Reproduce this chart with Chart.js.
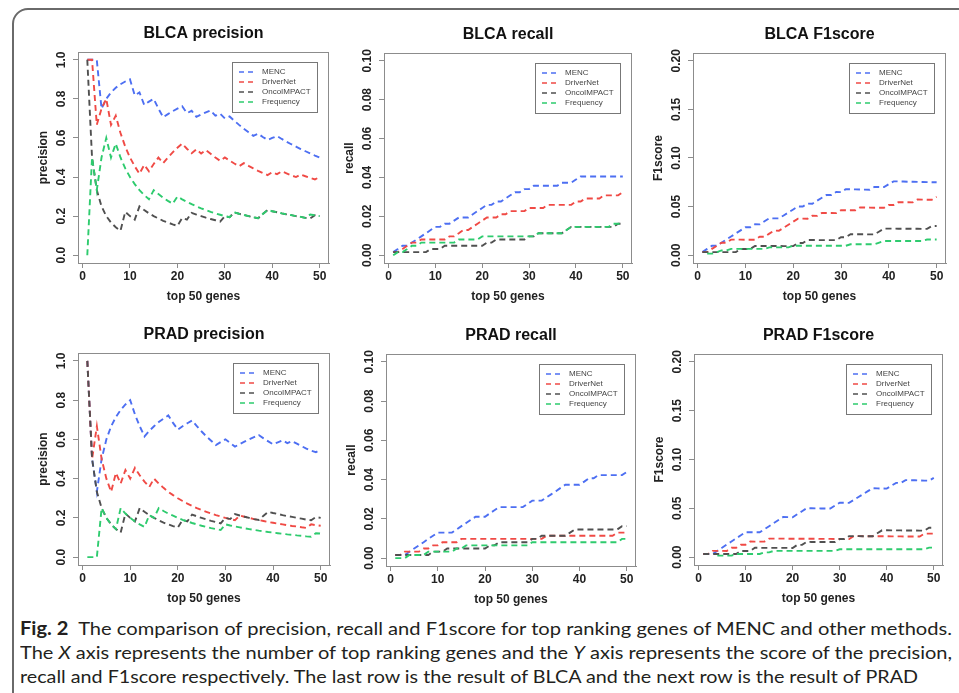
<!DOCTYPE html>
<html lang="en">
<head>
<meta charset="UTF-8">
<title>Fig. 2 precision, recall and F1score</title>
<script src="https://cdn.jsdelivr.net/npm/chart.js@4"></script>
<style>
  body {
    margin: 0;
    width: 959px;
    height: 693px;
    overflow: hidden;
    background: #fff;
    position: relative;
    font-family: "Liberation Sans", Arial, sans-serif;
  }
  .frame {
    position: absolute;
    left: 12px;
    top: 8px;
    width: 1000px;
    height: 800px;
    border: 2px solid #6a6a6a;
    border-radius: 16px;
  }
  canvas { position: absolute; }
  .caption {
    position: absolute;
    left: 20px;
    font-family: Lato, "Open Sans", sans-serif;
    font-size: 18px;
    line-height: 24px;
    color: #231f20;
    white-space: nowrap;
  }
  .caption span.line { display: inline-block; transform-origin: left center; }
  .caption b { font-weight: 700; }
</style>
</head>
<body>
<div class="frame"></div>

<canvas id="c1"></canvas>
<canvas id="c2"></canvas>
<canvas id="c3"></canvas>
<canvas id="c4"></canvas>
<canvas id="c5"></canvas>
<canvas id="c6"></canvas>

<div class="caption" style="top:616px"><span class="line" data-w="932"><b>Fig. 2</b>&nbsp; The comparison of precision, recall and F1score for top ranking genes of MENC and other methods.</span></div>
<div class="caption" style="top:640px"><span class="line" data-w="932">The <i>X</i> axis represents the number of top ranking genes and the <i>Y</i> axis represents the score of the precision,</span></div>
<div class="caption" style="top:664px"><span class="line" data-w="898">recall and F1score respectively. The last row is the result of BLCA and the next row is the result of PRAD</span></div>

<script>
// x axis: number of top ranking genes
const topGenes = [1,2,3,4,5,6,7,8,9,10,11,12,13,14,15,16,17,18,19,20,21,22,23,24,25,
  26,27,28,29,30,31,32,33,34,35,36,37,38,39,40,41,42,43,44,45,46,47,48,49,50];
const methods = ['MENC', 'DriverNet', 'OncoIMPACT', 'Frequency'];

const xTicks = [0, 10, 20, 30, 40, 50];
const precisionTicks = [0, 0.2, 0.4, 0.6, 0.8, 1.0];
const precisionLabels = ['0.0', '0.2', '0.4', '0.6', '0.8', '1.0'];
const recallTicks = [0, 0.02, 0.04, 0.06, 0.08, 0.10];
const recallLabels = ['0.00', '0.02', '0.04', '0.06', '0.08', '0.10'];
const f1Ticks = [0, 0.05, 0.10, 0.15, 0.20];
const f1Labels = ['0.00', '0.05', '0.10', '0.15', '0.20'];

// ---- BLCA ----
const blcaPrecMENC = [1,1,1,.75,.8,.833,.857,.875,.889,.9,
  .818,.833,.769,.786,.8,.75,.706,.722,.737,.75,
  .762,.727,.739,.708,.72,.731,.741,.714,.724,.7,
  .71,.688,.667,.647,.629,.611,.622,.605,.59,.6,
  .61,.595,.581,.568,.556,.543,.532,.521,.51,.5];
const blcaPrecDriverNet = [1,1,.667,.75,.8,.667,.714,.625,.556,.5,
  .455,.417,.462,.429,.467,.5,.471,.5,.526,.55,
  .571,.545,.522,.542,.52,.538,.519,.5,.483,.5,
  .484,.469,.455,.471,.457,.444,.432,.421,.41,.425,
  .415,.429,.419,.409,.4,.413,.404,.396,.388,.4];
const blcaPrecOnco = [1,.5,.333,.25,.2,.167,.143,.125,.222,.2,
  .182,.25,.231,.214,.2,.188,.176,.167,.158,.15,
  .19,.182,.217,.208,.2,.192,.185,.179,.172,.2,
  .194,.219,.212,.206,.2,.194,.189,.211,.231,.225,
  .22,.214,.209,.205,.2,.196,.191,.188,.204,.2];
const blcaPrecFreq = [0,.5,.333,.5,.6,.5,.571,.5,.444,.4,
  .364,.333,.308,.286,.333,.313,.294,.278,.263,.3,
  .286,.273,.261,.25,.24,.231,.222,.214,.207,.2,
  .194,.219,.212,.206,.2,.194,.189,.211,.231,.225,
  .22,.214,.209,.205,.2,.196,.191,.208,.204,.2];

const blcaRecMENC = [.0016,.0032,.0049,.0049,.0065,.0081,.0097,.0113,.013,.0146,
  .0146,.0162,.0162,.0178,.0194,.0194,.0194,.0211,.0227,.0243,
  .0259,.0259,.0276,.0276,.0292,.0308,.0324,.0324,.034,.034,
  .0357,.0357,.0357,.0357,.0357,.0357,.0373,.0373,.0373,.0389,
  .0405,.0405,.0405,.0405,.0405,.0405,.0405,.0405,.0405,.0405];
const blcaRecDriverNet = [.0016,.0016,.0032,.0049,.0065,.0065,.0081,.0081,.0081,.0081,
  .0081,.0081,.0097,.0097,.0113,.013,.013,.0146,.0162,.0178,
  .0194,.0194,.0194,.0211,.0211,.0227,.0227,.0227,.0227,.0243,
  .0243,.0243,.0243,.0259,.0259,.0259,.0259,.0259,.0259,.0276,
  .0276,.0292,.0292,.0292,.0292,.0308,.0308,.0308,.0308,.0324];
const blcaRecOnco = [.0016,.0016,.0016,.0016,.0016,.0016,.0016,.0016,.0032,.0032,
  .0032,.0049,.0049,.0049,.0049,.0049,.0049,.0049,.0049,.0049,
  .0065,.0065,.0081,.0081,.0081,.0081,.0081,.0081,.0081,.0097,
  .0097,.0113,.0113,.0113,.0113,.0113,.0113,.013,.0146,.0146,
  .0146,.0146,.0146,.0146,.0146,.0146,.0146,.0146,.0162,.0162];
const blcaRecFreq = [0,.0016,.0016,.0032,.0049,.0049,.0065,.0065,.0065,.0065,
  .0065,.0065,.0065,.0065,.0081,.0081,.0081,.0081,.0081,.0097,
  .0097,.0097,.0097,.0097,.0097,.0097,.0097,.0097,.0097,.0097,
  .0097,.0113,.0113,.0113,.0113,.0113,.0113,.013,.0146,.0146,
  .0146,.0146,.0146,.0146,.0146,.0146,.0146,.0162,.0162,.0162];

const blcaF1MENC = [.0032,.0065,.0097,.0097,.0129,.0161,.0192,.0224,.0256,.0287,
  .0287,.0318,.0317,.0349,.038,.0379,.0379,.0409,.044,.0471,
  .0502,.0501,.0531,.053,.0561,.0591,.0621,.062,.065,.0649,
  .0679,.0678,.0677,.0676,.0675,.0674,.0703,.0702,.0701,.0731,
  .076,.0759,.0758,.0756,.0755,.0754,.0753,.0752,.0751,.075];
const blcaF1DriverNet = [.0032,.0032,.0065,.0097,.0129,.0128,.016,.016,.016,.0159,
  .0159,.0159,.019,.019,.0222,.0253,.0252,.0283,.0314,.0345,
  .0376,.0376,.0375,.0406,.0405,.0435,.0435,.0434,.0433,.0464,
  .0463,.0462,.0462,.0492,.0491,.049,.0489,.0489,.0488,.0518,
  .0517,.0546,.0545,.0545,.0544,.0573,.0572,.0571,.0571,.06];
const blcaF1Onco = [.0032,.0032,.0032,.0032,.0032,.0032,.0032,.0032,.0064,.0064,
  .0064,.0095,.0095,.0095,.0095,.0095,.0095,.0094,.0094,.0094,
  .0125,.0125,.0156,.0156,.0156,.0155,.0155,.0155,.0155,.0185,
  .0185,.0216,.0215,.0215,.0215,.0214,.0214,.0244,.0274,.0274,
  .0274,.0273,.0273,.0273,.0272,.0272,.0271,.0271,.03,.03];
const blcaF1Freq = [null,.0016,.0016,.0032,.0049,.0049,.0065,.0065,.0065,.0065,
  .0065,.0065,.0065,.0065,.0081,.0081,.0081,.0081,.0081,.0097,
  .0097,.0097,.0097,.0097,.0097,.0097,.0097,.0097,.0097,.0097,
  .0097,.0113,.0113,.0113,.0113,.0113,.0113,.013,.0146,.0146,
  .0146,.0146,.0146,.0146,.0146,.0146,.0146,.0162,.0162,.0162];

// ---- PRAD ----
const pradPrecMENC = [1,.5,.333,.5,.6,.667,.714,.75,.778,.8,
  .727,.667,.615,.643,.667,.688,.706,.722,.684,.65,
  .667,.682,.696,.667,.64,.615,.593,.571,.586,.6,
  .581,.563,.576,.588,.6,.611,.622,.605,.59,.575,
  .585,.595,.581,.591,.578,.565,.553,.542,.535,.547];
const pradPrecDriverNet = [1,.5,.667,.5,.4,.333,.429,.375,.444,.4,
  .455,.417,.385,.357,.4,.375,.353,.333,.316,.3,
  .286,.273,.261,.25,.24,.231,.222,.214,.207,.2,
  .194,.188,.212,.206,.2,.194,.189,.184,.179,.175,
  .171,.167,.163,.159,.156,.152,.149,.167,.163,.16];
const pradPrecOnco = [1,.5,.333,.25,.2,.167,.143,.125,.222,.2,
  .182,.25,.231,.214,.2,.188,.176,.167,.158,.15,
  .19,.182,.217,.208,.2,.192,.185,.179,.172,.2,
  .194,.219,.212,.206,.2,.194,.189,.211,.231,.225,
  .22,.214,.209,.205,.2,.196,.191,.188,.204,.2];
const pradPrecFreq = [0,0,0,.25,.2,.167,.143,.25,.222,.2,
  .182,.167,.154,.214,.2,.25,.235,.222,.211,.2,
  .19,.182,.174,.167,.16,.154,.148,.143,.138,.167,
  .161,.156,.152,.147,.143,.139,.135,.132,.128,.125,
  .122,.119,.116,.114,.111,.109,.106,.104,.122,.12];

const pradRecMENC = [.0016,.0016,.0016,.0033,.0049,.0065,.0081,.0098,.0114,.013,
  .013,.013,.013,.0146,.0163,.0179,.0195,.0211,.0211,.0211,
  .0228,.0244,.026,.026,.026,.026,.026,.026,.0276,.0293,
  .0293,.0293,.0309,.0325,.0341,.0358,.0374,.0374,.0374,.0374,
  .039,.0407,.0407,.0423,.0423,.0423,.0423,.0423,.0423,.0439];
const pradRecDriverNet = [.0016,.0016,.0033,.0033,.0033,.0033,.0049,.0049,.0065,.0065,
  .0081,.0081,.0081,.0081,.0098,.0098,.0098,.0098,.0098,.0098,
  .0098,.0098,.0098,.0098,.0098,.0098,.0098,.0098,.0098,.0098,
  .0098,.0098,.0114,.0114,.0114,.0114,.0114,.0114,.0114,.0114,
  .0114,.0114,.0114,.0114,.0114,.0114,.0114,.013,.013,.013];
const pradRecOnco = [.0016,.0016,.0016,.0016,.0016,.0016,.0016,.0016,.0033,.0033,
  .0033,.0049,.0049,.0049,.0049,.0049,.0049,.0049,.0049,.0049,
  .0065,.0065,.0081,.0081,.0081,.0081,.0081,.0081,.0081,.0098,
  .0098,.0114,.0114,.0114,.0114,.0114,.0114,.013,.0146,.0146,
  .0146,.0146,.0146,.0146,.0146,.0146,.0146,.0146,.0163,.0163];
const pradRecFreq = [0,0,0,.0016,.0016,.0016,.0016,.0033,.0033,.0033,
  .0033,.0033,.0033,.0049,.0049,.0065,.0065,.0065,.0065,.0065,
  .0065,.0065,.0065,.0065,.0065,.0065,.0065,.0065,.0065,.0081,
  .0081,.0081,.0081,.0081,.0081,.0081,.0081,.0081,.0081,.0081,
  .0081,.0081,.0081,.0081,.0081,.0081,.0081,.0081,.0098,.0098];

const pradF1MENC = [.0032,.0032,.0032,.0065,.0097,.0129,.0161,.0193,.0224,.0256,
  .0256,.0255,.0255,.0286,.0317,.0349,.038,.0411,.041,.0409,
  .044,.0471,.0502,.0501,.05,.0499,.0498,.0498,.0528,.0558,
  .0557,.0556,.0586,.0616,.0646,.0676,.0706,.0704,.0703,.0702,
  .0732,.0761,.076,.0789,.0788,.0787,.0785,.0784,.0783,.0812];
const pradF1DriverNet = [.0032,.0032,.0065,.0065,.0065,.0064,.0096,.0096,.0128,.0128,
  .016,.0159,.0159,.0159,.019,.019,.019,.019,.0189,.0189,
  .0189,.0188,.0188,.0188,.0188,.0187,.0187,.0187,.0186,.0186,
  .0186,.0185,.0216,.0216,.0215,.0215,.0215,.0214,.0214,.0214,
  .0213,.0213,.0213,.0212,.0212,.0212,.0211,.0241,.0241,.0241];
const pradF1Onco = [.0032,.0032,.0032,.0032,.0032,.0032,.0032,.0032,.0064,.0064,
  .0064,.0096,.0096,.0095,.0095,.0095,.0095,.0095,.0095,.0094,
  .0126,.0126,.0157,.0156,.0156,.0156,.0156,.0156,.0155,.0186,
  .0186,.0216,.0216,.0216,.0215,.0215,.0215,.0245,.0275,.0275,
  .0274,.0274,.0274,.0273,.0273,.0273,.0272,.0271,.0301,.0301];
const pradF1Freq = [null,null,null,.0016,.0016,.0016,.0016,.0033,.0033,.0033,
  .0033,.0033,.0033,.0049,.0049,.0065,.0065,.0065,.0065,.0065,
  .0065,.0065,.0065,.0065,.0065,.0065,.0065,.0065,.0065,.0081,
  .0081,.0081,.0081,.0081,.0081,.0081,.0081,.0081,.0081,.0081,
  .0081,.0081,.0081,.0081,.0081,.0081,.0081,.0081,.0098,.0098];

// line colours, same order as methods
const lineColors = ['#4d6ff2', '#f04a45', '#505050', '#2ecb6e'];
const FONT = '"Liberation Sans", Arial, sans-serif';

// panel setup: plot box (R-style) in page pixels
const panels = [
  {id: 'c1', title: 'BLCA precision', yTitle: 'precision', yMin: -0.04, yMax: 1.04, ticks: precisionTicks, labels: precisionLabels,
   series: [blcaPrecMENC, blcaPrecDriverNet, blcaPrecOnco, blcaPrecFreq], box: [78, 52, 329, 263]},
  {id: 'c2', title: 'BLCA recall', yTitle: 'recall', yMin: -0.004, yMax: 0.104, ticks: recallTicks, labels: recallLabels,
   series: [blcaRecMENC, blcaRecDriverNet, blcaRecOnco, blcaRecFreq], box: [384, 53, 632, 263]},
  {id: 'c3', title: 'BLCA F1score', yTitle: 'F1score', yMin: -0.008, yMax: 0.208, ticks: f1Ticks, labels: f1Labels,
   series: [blcaF1MENC, blcaF1DriverNet, blcaF1Onco, blcaF1Freq], box: [693, 53, 946, 263]},
  {id: 'c4', title: 'PRAD precision', yTitle: 'precision', yMin: -0.04, yMax: 1.04, ticks: precisionTicks, labels: precisionLabels,
   series: [pradPrecMENC, pradPrecDriverNet, pradPrecOnco, pradPrecFreq], box: [78, 353, 330, 565]},
  {id: 'c5', title: 'PRAD recall', yTitle: 'recall', yMin: -0.004, yMax: 0.104, ticks: recallTicks, labels: recallLabels,
   series: [pradRecMENC, pradRecDriverNet, pradRecOnco, pradRecFreq], box: [386, 354, 636, 566]},
  {id: 'c6', title: 'PRAD F1score', yTitle: 'F1score', yMin: -0.008, yMax: 0.208, ticks: f1Ticks, labels: f1Labels,
   series: [pradF1MENC, pradF1DriverNet, pradF1Onco, pradF1Freq], box: [694, 354, 943, 565]}
];

// room around the plot box inside each canvas
const LEFT = 78, TOP = 52, RIGHT = 8, BOTTOM = 47;

// R-like extras: plot box, rotated y tick labels, top-right legend
const rExtras = {
  id: 'rExtras',
  afterDraw(chart) {
    const ctx = chart.ctx;
    const a = chart.chartArea;
    const y = chart.scales.y;
    ctx.save();

    // plot box
    ctx.strokeStyle = '#8c8c8c';
    ctx.lineWidth = 1;
    ctx.strokeRect(a.left + 0.5, a.top + 0.5, a.right - a.left - 1, a.bottom - a.top);

    // y tick labels, read along the axis like R does
    ctx.font = 'bold 12px ' + FONT;
    ctx.fillStyle = '#222';
    ctx.textAlign = 'center';
    ctx.textBaseline = 'middle';
    y.ticks.forEach(t => {
      ctx.save();
      ctx.translate(a.left - 16, y.getPixelForValue(t.value));
      ctx.rotate(-Math.PI / 2);
      ctx.fillText(t.label, 0, 0);
      ctx.restore();
    });

    // legend
    const lw = 85, lh = 50;
    const lx = a.right - 12 - lw, ly = a.top + 10;
    ctx.fillStyle = '#fff';
    ctx.fillRect(lx, ly, lw, lh);
    ctx.strokeStyle = '#777';
    ctx.strokeRect(lx + 0.5, ly + 0.5, lw, lh);
    ctx.font = '8px ' + FONT;
    ctx.textAlign = 'left';
    chart.data.datasets.forEach((ds, i) => {
      const ry = ly + 10 + i * 10;
      ctx.strokeStyle = ds.borderColor;
      ctx.lineWidth = 1.6;
      ctx.setLineDash([5, 4]);
      ctx.beginPath();
      ctx.moveTo(lx + 7, ry);
      ctx.lineTo(lx + 24, ry);
      ctx.stroke();
      ctx.setLineDash([]);
      ctx.fillStyle = '#444';
      ctx.fillText(ds.label, lx + 30, ry);
    });
    ctx.restore();
  }
};

panels.forEach(p => {
  const [bl, bt, br, bb] = p.box;
  const cv = document.getElementById(p.id);
  const w = br - bl + LEFT + RIGHT, h = bb - bt + TOP + BOTTOM;
  cv.width = w;
  cv.height = h;
  cv.style.left = (bl - LEFT) + 'px';
  cv.style.top = (bt - TOP) + 'px';

  const datasets = methods.map((m, i) => ({
    label: m,
    data: topGenes.map((g, k) => ({x: g, y: p.series[i][k]})),
    borderColor: lineColors[i],
    borderWidth: 1.9,
    borderDash: [6, 4],
    pointRadius: 0,
    tension: 0,
    fill: false,
    spanGaps: false,
    order: methods.length - i
  }));

  new Chart(cv, {
    type: 'line',
    data: {datasets},
    options: {
      responsive: false,
      animation: false,
      devicePixelRatio: 1,
      layout: {padding: {left: 0, top: 0, right: RIGHT, bottom: 0}},
      plugins: {
        legend: {display: false},
        tooltip: {enabled: false},
        title: {
          display: true,
          text: p.title,
          fullSize: false,
          color: '#111',
          font: {family: FONT, size: 16, weight: 'bold'},
          padding: {top: TOP - 28.1, bottom: 8.9}
        }
      },
      scales: {
        x: {
          type: 'linear',
          min: -0.96,
          max: 51.96,
          afterBuildTicks: s => { s.ticks = xTicks.map(v => ({value: v})); },
          afterFit: s => { s.height = BOTTOM; },
          ticks: {color: '#222', padding: 1, font: {family: FONT, size: 12, weight: 'bold'}},
          grid: {drawOnChartArea: false, drawTicks: true, tickLength: 5, color: '#8c8c8c'},
          border: {display: true, color: '#8c8c8c'},
          title: {display: true, text: 'top 50 genes', color: '#222',
                  font: {family: FONT, size: 12, weight: 'bold'}, padding: {top: 0, bottom: 5.8}}
        },
        y: {
          type: 'linear',
          min: p.yMin,
          max: p.yMax,
          afterBuildTicks: s => { s.ticks = p.ticks.map(v => ({value: v})); },
          afterFit: s => { s.width = LEFT; },
          ticks: {display: false, callback: (v, i) => p.labels[i]},
          grid: {drawOnChartArea: false, drawTicks: true, tickLength: 5, color: '#8c8c8c'},
          border: {display: true, color: '#8c8c8c'},
          title: {display: true, text: p.yTitle, color: '#222',
                  font: {family: FONT, size: 12, weight: 'bold'}, padding: {top: LEFT - 34 - 7.2, bottom: 0}}
        }
      }
    },
    plugins: [rExtras]
  });
});

// stretch each caption line to the width it has in the figure
document.querySelectorAll('.caption .line').forEach(el => {
  const target = +el.dataset.w;
  const k = target / el.getBoundingClientRect().width;
  el.style.transform = 'scaleX(' + k + ')';
});
</script>
</body>
</html>
